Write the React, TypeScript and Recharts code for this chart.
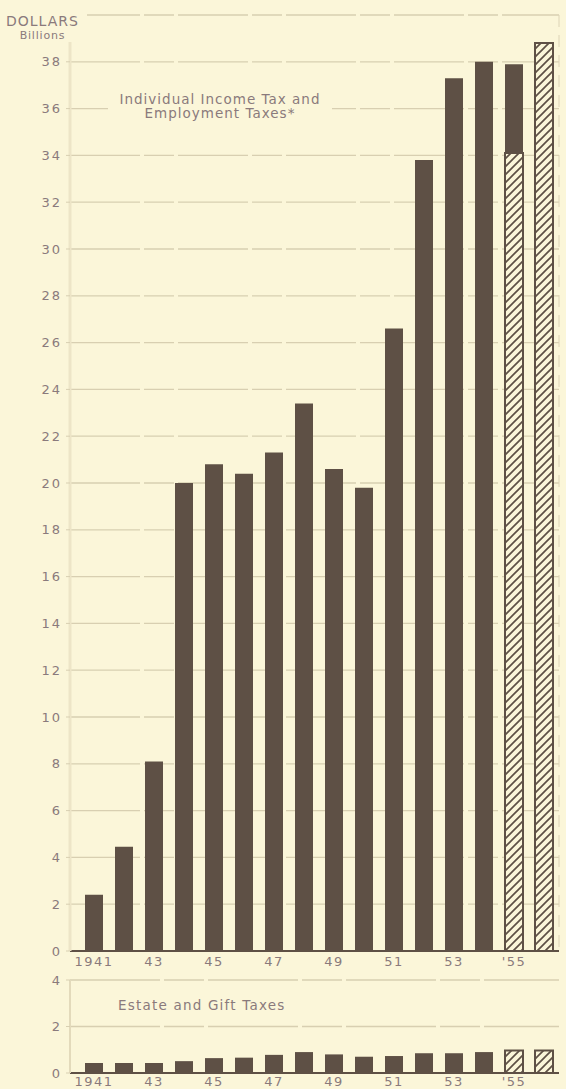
import { Bar, BarChart, CartesianGrid, XAxis, YAxis } from "recharts";

const categories = [
  "1941", "1942", "1943", "1944", "1945", "1946", "1947", "1948",
  "1949", "1950", "1951", "1952", "1953", "1954", "1955", "1956",
];
const yearTicks = [
  "1941", "", "43", "", "45", "", "47", "", "49", "", "51", "", "53", "", "'55", "",
];

// Individual income tax and employment taxes, billions
const incomeActual = [
  2.4, 4.45, 8.1, 20.0, 20.8, 20.4, 21.3, 23.4, 20.6, 19.8, 26.6, 33.8, 37.3, 38.0, 3.8, 0,
];
const incomeEstimate = [0, 0, 0, 0, 0, 0, 0, 0, 0, 0, 0, 0, 0, 0, 34.1, 38.8];

// Estate and gift taxes, billions
const estateActual = [
  0.43, 0.43, 0.43, 0.51, 0.64, 0.66, 0.78, 0.9, 0.8, 0.7, 0.73, 0.85, 0.85, 0.9, 0, 0,
];
const estateEstimate = [0, 0, 0, 0, 0, 0, 0, 0, 0, 0, 0, 0, 0, 0, 0.97, 0.97];

const mainTicks = [0, 2, 4, 6, 8, 10, 12, 14, 16, 18, 20, 22, 24, 26, 28, 30, 32, 34, 36, 38, 40];
const lowerTicks = [0, 2, 4];

const BG = "#fbf6d9";
const BAR = "#5e5045";
const TEXT = "#8a7a7c";
const GRID = "#d8cfb1";
const FONT = "'DejaVu Sans', sans-serif";

const mainData = categories.map((year, i) => ({
  year,
  actual: incomeActual[i],
  estimate: incomeEstimate[i],
}));
const lowerData = categories.map((year, i) => ({
  year,
  actual: estateActual[i],
  estimate: estateEstimate[i],
}));

const yTick = { fill: TEXT, fontSize: 13, fontFamily: FONT, letterSpacing: 2 };
const xTick = { fill: TEXT, fontSize: 13, fontFamily: FONT, letterSpacing: 1.5 };
const fmtYear = (v: string) => yearTicks[categories.indexOf(v)] ?? "";

function Hatch({ id }: { id: string }) {
  return (
    <defs>
      <pattern id={id} patternUnits="userSpaceOnUse" width={8} height={8}>
        <rect width={8} height={8} fill={BG} />
        <path d="M-1,9 L9,-1 M-2,2 L2,-2 M6,10 L10,6" stroke={BAR} strokeWidth={1.7} />
      </pattern>
    </defs>
  );
}

export default function App() {
  return (
    <div
      style={{
        position: "absolute",
        left: 0,
        top: 0,
        width: 566,
        height: 1089,
        background: BG,
        overflow: "hidden",
        fontFamily: FONT,
        color: TEXT,
      }}
    >
      <div style={{ position: "absolute", left: 0, top: 0 }}>
        <BarChart
          width={566}
          height={980}
          data={mainData}
          margin={{ top: 15, right: 0, bottom: 0, left: 0 }}
          barSize={18}
        >
          <Hatch id="hatchMain" />
          <CartesianGrid
            yAxisId="left"
            vertical={false}
            stroke={GRID}
            strokeWidth={1.3}
            strokeDasharray="70 4 30 4"
          />
          <XAxis
            dataKey="year"
            height={29}
            padding={{ left: 9, right: 0 }}
            interval={0}
            tickFormatter={fmtYear}
            tickLine={false}
            tickSize={4}
            tickMargin={2}
            axisLine={{ stroke: BAR, strokeWidth: 2 }}
            tick={xTick}
          />
          <YAxis
            yAxisId="left"
            width={70}
            domain={[0, 40]}
            ticks={mainTicks}
            interval={0}
            tickFormatter={(v: number) => (v === 40 ? "" : String(v))}
            tickSize={4}
            tickMargin={4}
            tickLine={{ stroke: GRID }}
            axisLine={{ stroke: "#ede5c7", strokeWidth: 3 }}
            tick={yTick}
          />
          <YAxis
            yAxisId="right"
            orientation="right"
            width={7}
            domain={[0, 40]}
            ticks={mainTicks}
            tick={false}
            tickSize={4}
            tickLine={{ stroke: "#bdb295" }}
            axisLine={{ stroke: "#ddd4b6", strokeDasharray: "12 8" }}
          />
          <Bar
            yAxisId="left"
            dataKey="estimate"
            stackId="a"
            fill="url(#hatchMain)"
            stroke={BAR}
            strokeWidth={2}
            isAnimationActive={false}
          />
          <Bar
            yAxisId="left"
            dataKey="actual"
            stackId="a"
            fill={BAR}
            isAnimationActive={false}
          />
        </BarChart>
      </div>

      <div style={{ position: "absolute", left: 0, top: 970 }}>
        <BarChart
          width={566}
          height={119}
          data={lowerData}
          margin={{ top: 10, right: 0, bottom: 0, left: 0 }}
          barSize={18}
        >
          <Hatch id="hatchLower" />
          <CartesianGrid
            yAxisId="left"
            vertical={false}
            stroke={GRID}
            strokeWidth={1.3}
            strokeDasharray="90 4 40 4"
            horizontalValues={[2, 4]}
          />
          <XAxis
            dataKey="year"
            height={16}
            padding={{ left: 9, right: 0 }}
            interval={0}
            tickFormatter={fmtYear}
            tickLine={false}
            tickSize={3}
            tickMargin={1}
            axisLine={{ stroke: BAR, strokeWidth: 2 }}
            tick={xTick}
          />
          <YAxis
            yAxisId="left"
            width={70}
            domain={[0, 4]}
            ticks={lowerTicks}
            interval={0}
            tickSize={4}
            tickMargin={4}
            tickLine={{ stroke: GRID }}
            axisLine={{ stroke: "#e3dabb", strokeWidth: 2 }}
            tick={yTick}
          />
          <YAxis
            yAxisId="right"
            orientation="right"
            width={7}
            domain={[0, 4]}
            ticks={lowerTicks}
            tick={false}
            tickLine={false}
            axisLine={false}
          />
          <Bar
            yAxisId="left"
            dataKey="estimate"
            stackId="a"
            fill="url(#hatchLower)"
            stroke={BAR}
            strokeWidth={2}
            isAnimationActive={false}
          />
          <Bar
            yAxisId="left"
            dataKey="actual"
            stackId="a"
            fill={BAR}
            isAnimationActive={false}
          />
        </BarChart>
      </div>

      <div
        style={{
          position: "absolute",
          left: 4,
          top: 14,
          padding: "0 8px 0 2px",
          background: BG,
          fontSize: 14,
          letterSpacing: 1,
          lineHeight: "15px",
          textAlign: "center",
        }}
      >
        DOLLARS
        <div style={{ fontSize: 11, letterSpacing: 0.8, lineHeight: "13px" }}>
          Billions
        </div>
      </div>

      <div
        style={{
          position: "absolute",
          left: 108,
          top: 92,
          width: 224,
          background: BG,
          fontSize: 13.5,
          letterSpacing: 1,
          lineHeight: "14px",
          textAlign: "center",
        }}
      >
        Individual Income Tax and
        <br />
        Employment Taxes*
      </div>

      <div
        style={{
          position: "absolute",
          left: 118,
          top: 997,
          fontSize: 13.5,
          letterSpacing: 1.2,
          lineHeight: "16px",
        }}
      >
        Estate and Gift Taxes
      </div>
    </div>
  );
}
